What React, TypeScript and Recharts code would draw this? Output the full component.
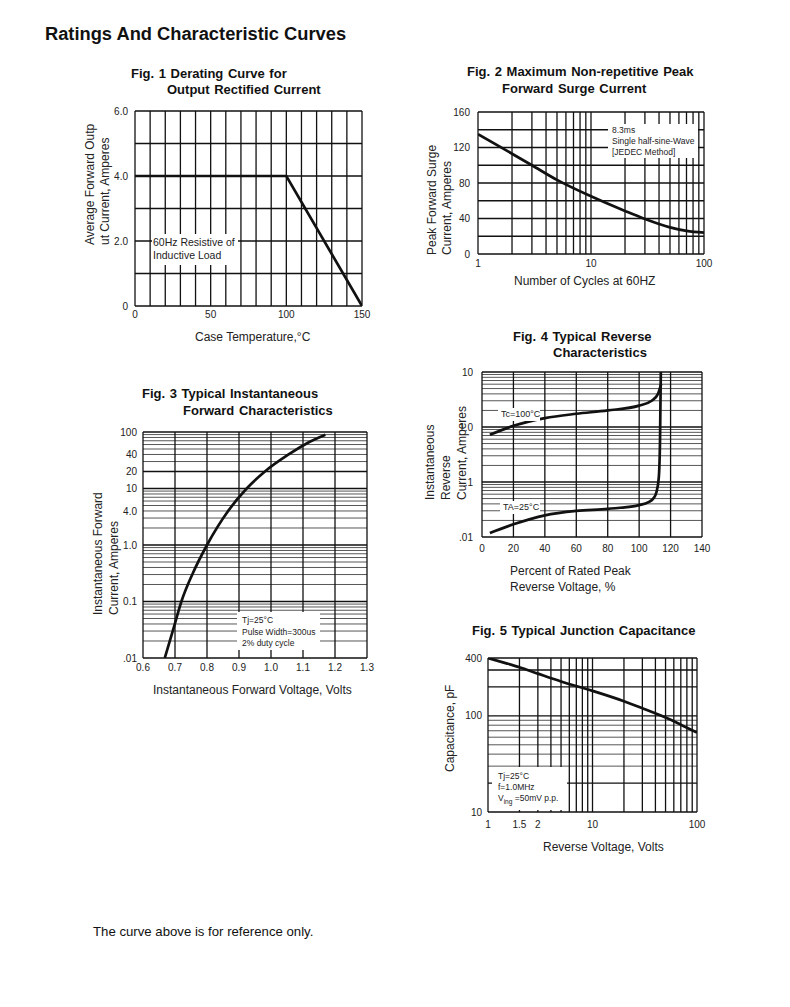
import React from 'react';
import { LineChart, Line, XAxis, YAxis, ReferenceLine } from 'recharts';

const FONT = '"Liberation Sans", Arial, Helvetica, sans-serif';

// Fig. 1 Derating curve
const fig1Temp = [0, 100, 150];
const fig1Current = [4.0, 4.0, 0];
const fig1XTicks = [0, 50, 100, 150];
const fig1XLabels = ['0', '50', '100', '150'];
const fig1YTicks = [0, 2, 4, 6];
const fig1YLabels = ['0', '2.0', '4.0', '6.0'];

// Fig. 2 Surge current
const fig2Cycles = [1, 2, 3, 5, 10, 20, 30, 50, 70, 100];
const fig2Surge = [135, 113, 100, 83.5, 65, 48.5, 39.5, 30, 26, 24];
const fig2XTicks = [1, 10, 100];
const fig2XLabels = ['1', '10', '100'];
const fig2YTicks = [0, 40, 80, 120, 160];
const fig2YLabels = ['0', '40', '80', '120', '160'];

// Fig. 3 Forward characteristics
const fig3Voltage = [0.668, 0.697, 0.72, 0.755, 0.8, 0.866, 0.924, 0.981, 1.055, 1.11, 1.17];
const fig3Current = [0.01, 0.036, 0.1, 0.31, 1.0, 4.0, 10, 20, 40, 62, 89];
const fig3XTicks = [0.6, 0.7, 0.8, 0.9, 1.0, 1.1, 1.2, 1.3];
const fig3XLabels = ['0.6', '0.7', '0.8', '0.9', '1.0', '1.1', '1.2', '1.3'];
const fig3YTicks = [0.01, 0.1, 1, 4, 10, 20, 40, 100];
const fig3YLabels = ['.01', '0.1', '1.0', '4.0', '10', '20', '40', '100'];

// Fig. 4 Reverse characteristics
const fig4PctHot = [5, 20, 40, 60, 80, 100, 108, 112, 114];
const fig4CurrentHot = [0.72, 1.05, 1.45, 1.74, 2.0, 2.45, 3.0, 4.0, 6.0];
const fig4PctCold = [5, 20, 40, 60, 80, 100, 106, 109, 111, 112.5, 113.3, 113.8];
const fig4CurrentCold = [0.0118, 0.017, 0.0248, 0.0298, 0.0325, 0.038, 0.043, 0.05, 0.065, 0.12, 0.6, 10];
const fig4XTicks = [0, 20, 40, 60, 80, 100, 120, 140];
const fig4XLabels = ['0', '20', '40', '60', '80', '100', '120', '140'];
const fig4YTicks = [0.01, 0.1, 1, 10];
const fig4YLabels = ['.01', '.1', '1.0', '10'];

// Fig. 5 Junction capacitance
const fig5Voltage = [1, 1.5, 2, 3, 5, 10, 20, 30, 50, 70, 100];
const fig5Cap = [400, 352, 320, 275, 228, 182, 142, 120, 96, 81, 67];
const fig5XTicks = [1, 2, 3, 10, 100];
const fig5XLabels = ['1', '1.5', '2', '10', '100'];
const fig5YTicks = [10, 100, 400];
const fig5YLabels = ['10', '100', '400'];

const range = (a: number, b: number, s: number) => {
  const out: number[] = [];
  for (let v = a; v <= b + s / 1000; v += s) out.push(Math.round(v * 1000) / 1000);
  return out;
};
const logGrid = (k0: number, k1: number, top: number) => {
  const out: number[] = [];
  for (let k = k0; k <= k1; k++)
    for (let m = 1; m <= 9; m++) {
      const v = +(m * Math.pow(10, k)).toPrecision(3);
      if (v <= top) out.push(v);
    }
  if (!out.includes(top)) out.push(top);
  return out;
};

type Series = { xs: number[]; ys: number[]; curve?: 'linear' | 'monotone' };

type FigProps = {
  left: number; top: number; width: number; height: number;
  xDomain: [number, number]; yDomain: [number, number];
  xLog?: boolean; yLog?: boolean;
  xTicks: number[]; xLabels: string[];
  yTicks: number[]; yLabels: string[];
  xGrid: number[]; yGrid: number[];
  yBold?: number[];
  xOff: number; yGap: number;
  series: Series[];
};

const ML = 44, MR = 18, MT = 10, MB = 26;

function Fig(p: FigProps) {
  const tick = { fontSize: 10, fill: '#222', fontFamily: FONT };
  const bold = p.yBold ?? [];
  return (
    <div style={{ position: 'absolute', left: p.left - ML, top: p.top - MT }}>
      <LineChart width={p.width + ML + MR} height={p.height + MT + MB}
        margin={{ top: MT, right: MR, left: 0, bottom: 0 }}>
        <XAxis type="number" dataKey="x" scale={p.xLog ? 'log' : 'linear'} domain={p.xDomain}
          allowDataOverflow ticks={p.xTicks} interval={0} height={MB}
          tickFormatter={(v: number) => p.xLabels[p.xTicks.indexOf(v)] ?? String(v)}
          axisLine={false} tickLine={false} tickSize={p.xOff} tickMargin={0} tick={tick} />
        <YAxis type="number" dataKey="y" scale={p.yLog ? 'log' : 'linear'} domain={p.yDomain}
          allowDataOverflow ticks={p.yTicks} interval={0} width={ML}
          tickFormatter={(v: number) => p.yLabels[p.yTicks.indexOf(v)] ?? String(v)}
          axisLine={false} tickLine={false} tickSize={p.yGap} tickMargin={0} tick={tick} />
        {p.yGrid.map((v) => {
          const major = !p.yLog || bold.includes(v) || v === p.yDomain[0] || v === p.yDomain[1];
          return (
            <ReferenceLine key={'h' + v} y={v} ifOverflow="visible"
              stroke={major ? '#111' : '#444'} strokeWidth={major ? 1.3 : 0.9} />
          );
        })}
        {p.xGrid.map((v) => (
          <ReferenceLine key={'v' + v} x={v} ifOverflow="visible" stroke="#111" strokeWidth={1.3} />
        ))}
        {p.series.map((s, i) => (
          <Line key={i} data={s.xs.map((x, j) => ({ x, y: s.ys[j] }))} dataKey="y"
            type={s.curve ?? 'monotone'} stroke="#111" strokeWidth={2.7} dot={false}
            isAnimationActive={false} />
        ))}
      </LineChart>
    </div>
  );
}

const abs = (left: number, top: number, extra: React.CSSProperties = {}): React.CSSProperties => ({
  position: 'absolute', left, top, whiteSpace: 'nowrap', ...extra,
});

const titleStyle = { fontSize: 13, lineHeight: '16px', fontWeight: 700, color: '#111', wordSpacing: 1 };
const labelStyle = { fontSize: 12, lineHeight: '14px', color: '#222' };

function YLabel({ left, bottom, lh, lines }: { left: number; bottom: number; lh: number; lines: string[] }) {
  return (
    <div style={abs(left, bottom, {
      fontSize: 12, lineHeight: lh + 'px', color: '#222',
      transform: 'rotate(-90deg)', transformOrigin: '0 0',
    })}>
      {lines.map((l, i) => <div key={i}>{l}</div>)}
    </div>
  );
}

const noteStyle = (left: number, top: number, w: number, h: number, fs: number, lh: number, pad: string): React.CSSProperties =>
  abs(left, top, { width: w, height: h, background: '#fff', fontSize: fs, lineHeight: lh + 'px', padding: pad, boxSizing: 'border-box', color: '#222' });

export default function App() {
  return (
    <div style={{ position: 'absolute', left: 0, top: 0, width: 790, height: 1007, background: '#fff', fontFamily: FONT }}>
      <div style={abs(45, 24, { fontSize: 18.3, lineHeight: '20px', fontWeight: 700, color: '#111' })}>
        Ratings And Characteristic Curves
      </div>

      {/* Fig 1 */}
      <div style={abs(131, 66, titleStyle)}>Fig. 1 Derating Curve for</div>
      <div style={abs(167, 82, titleStyle)}>Output Rectified Current</div>
      <Fig left={135} top={111} width={227} height={195} xDomain={[0, 150]} yDomain={[0, 6]}
        xTicks={fig1XTicks} xLabels={fig1XLabels} yTicks={fig1YTicks} yLabels={fig1YLabels}
        xGrid={range(0, 150, 10)} yGrid={range(0, 6, 1)} xOff={4.5} yGap={7}
        series={[{ xs: fig1Temp, ys: fig1Current, curve: 'linear' }]} />
      <div style={noteStyle(152, 234, 86, 31, 10.5, 13, '1.5px 1px 0 1px')}>
        60Hz Resistive of<br />Inductive Load
      </div>
      <YLabel left={82.5} bottom={245} lh={15} lines={['Average Forward Outp', 'ut Current, Amperes']} />
      <div style={abs(195, 330, labelStyle)}>Case Temperature,°C</div>

      {/* Fig 2 */}
      <div style={abs(467, 64, titleStyle)}>Fig. 2 Maximum Non-repetitive Peak</div>
      <div style={abs(502, 81, titleStyle)}>Forward Surge Current</div>
      <Fig left={478} top={112} width={226} height={142} xDomain={[1, 100]} yDomain={[0, 160]} xLog
        xTicks={fig2XTicks} xLabels={fig2XLabels} yTicks={fig2YTicks} yLabels={fig2YLabels}
        xGrid={logGrid(0, 1, 100)} yGrid={range(0, 160, 20)} xOff={5.5} yGap={8}
        series={[{ xs: fig2Cycles, ys: fig2Surge }]} />
      <div style={noteStyle(608, 124, 90, 34, 8.5, 11, '0.5px 0 0 4px')}>
        8.3ms<br />Single half-sine-Wave<br />[JEDEC Method]
      </div>
      <YLabel left={424.5} bottom={255} lh={15} lines={['Peak Forward Surge', 'Current, Amperes']} />
      <div style={abs(514, 274, labelStyle)}>Number of Cycles at 60HZ</div>

      {/* Fig 3 */}
      <div style={abs(142, 386, titleStyle)}>Fig. 3 Typical Instantaneous</div>
      <div style={abs(183, 403, titleStyle)}>Forward Characteristics</div>
      <Fig left={143} top={432} width={224} height={226} xDomain={[0.6, 1.3]} yDomain={[0.01, 100]} yLog
        xTicks={fig3XTicks} xLabels={fig3XLabels} yTicks={fig3YTicks} yLabels={fig3YLabels}
        xGrid={range(0.6, 1.3, 0.1)} yGrid={logGrid(-2, 1, 100)} yBold={[0.01, 0.1, 1, 10, 20, 100]}
        xOff={5.5} yGap={6}
        series={[{ xs: fig3Voltage, ys: fig3Current }]} />
      <div style={noteStyle(237, 612, 83, 38, 8.5, 11.5, '3px 0 0 5px')}>
        Tj=25°C<br />Pulse Width=300us<br />2% duty cycle
      </div>
      <YLabel left={90} bottom={615} lh={16} lines={['Instantaneous Forward', 'Current, Amperes']} />
      <div style={abs(153, 683, labelStyle)}>Instantaneous Forward Voltage, Volts</div>

      {/* Fig 4 */}
      <div style={abs(513, 329, titleStyle)}>Fig. 4 Typical Reverse</div>
      <div style={abs(553, 345, titleStyle)}>Characteristics</div>
      <Fig left={482} top={372} width={220} height={165} xDomain={[0, 140]} yDomain={[0.01, 10]} yLog
        xTicks={fig4XTicks} xLabels={fig4XLabels} yTicks={fig4YTicks} yLabels={fig4YLabels}
        xGrid={range(0, 140, 20)} yGrid={logGrid(-2, 0, 10)} yBold={[0.01, 0.1, 1, 10]}
        xOff={7.5} yGap={9}
        series={[{ xs: fig4PctHot, ys: fig4CurrentHot }, { xs: fig4PctCold, ys: fig4CurrentCold }]} />
      <div style={noteStyle(498, 408, 42, 13, 9, 13, '0 0 0 3px')}>Tc=100°C</div>
      <div style={noteStyle(500, 501, 40, 13, 9, 13, '0 0 0 3px')}>TA=25°C</div>
      <YLabel left={422} bottom={500} lh={16} lines={['Instantaneous', 'Reverse', 'Current, Amperes']} />
      <div style={abs(510, 563, { ...labelStyle, lineHeight: '16px' })}>
        Percent of Rated Peak<br />Reverse Voltage, %
      </div>

      {/* Fig 5 */}
      <div style={abs(472, 623, titleStyle)}>Fig. 5 Typical Junction Capacitance</div>
      <Fig left={488} top={658} width={209} height={154} xDomain={[1, 100]} yDomain={[10, 400]} xLog yLog
        xTicks={fig5XTicks} xLabels={fig5XLabels} yTicks={fig5YTicks} yLabels={fig5YLabels}
        xGrid={logGrid(0, 1, 100)} yGrid={logGrid(1, 2, 400)} yBold={[10, 20, 100, 200, 300, 400]}
        xOff={8.5} yGap={6}
        series={[{ xs: fig5Voltage, ys: fig5Cap }]} />
      <div style={noteStyle(492, 767, 75, 43, 8.5, 11, '3.5px 0 0 6px')}>
        Tj=25°C<br />f=1.0MHz<br />V<sub style={{ fontSize: 6.5 }}>ing</sub> =50mV p.p.
      </div>
      <YLabel left={443} bottom={772} lh={14} lines={['Capacitance, pF']} />
      <div style={abs(543, 840, labelStyle)}>Reverse Voltage, Volts</div>

      <div style={abs(93, 924, { fontSize: 13.2, lineHeight: '16px', color: '#111' })}>
        The curve above is for reference only.
      </div>
    </div>
  );
}
